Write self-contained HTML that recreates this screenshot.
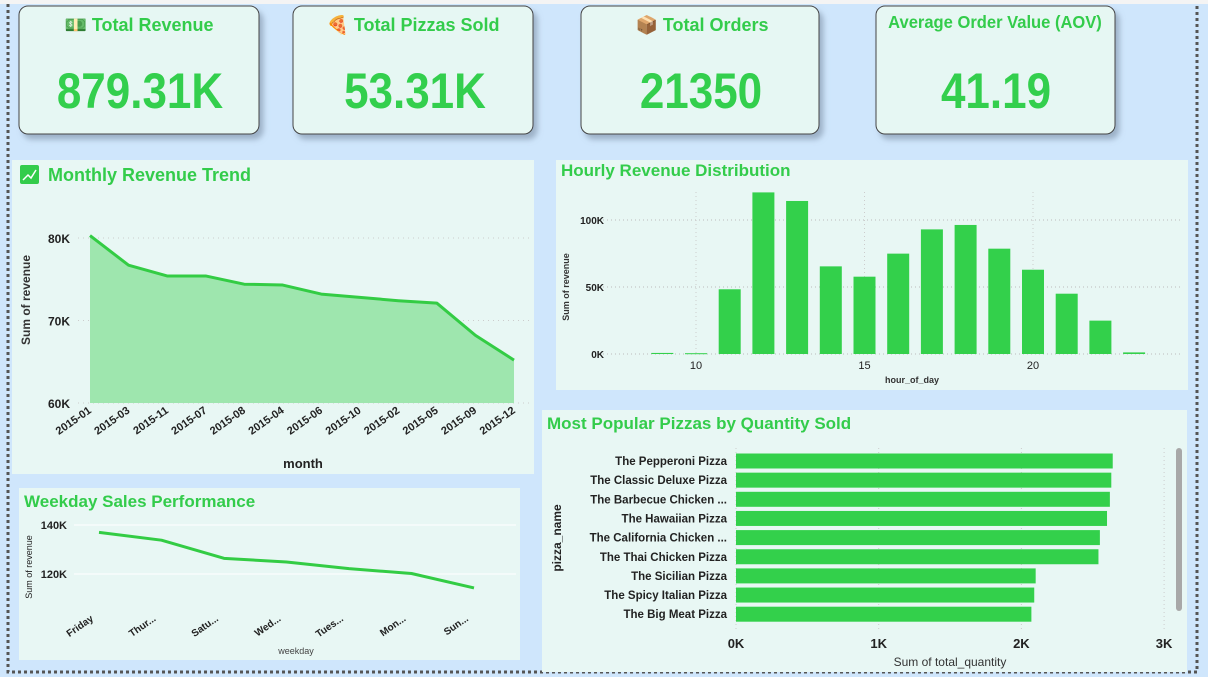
<!DOCTYPE html>
<html><head><meta charset="utf-8"><style>
html,body{margin:0;padding:0;width:1208px;height:677px;overflow:hidden;background:#cfe6fc;font-family:"Liberation Sans",sans-serif}
svg text{font-family:"Liberation Sans",sans-serif}
</style></head><body>
<svg id="root" width="1208" height="677" viewBox="0 0 1208 677" xmlns="http://www.w3.org/2000/svg">
<defs><filter id="sh" x="-10%" y="-10%" width="130%" height="140%"><feDropShadow dx="4" dy="5" stdDeviation="3" flood-color="#7a8ea3" flood-opacity="0.6"/></filter></defs>
<rect x="0" y="0" width="1208" height="4" fill="#f4f4f4"/>
<path d="M8 4 V672 H1197 V4" fill="none" stroke="#555" stroke-width="3" stroke-dasharray="3,3"/>

<g>
<rect x="19" y="6" width="240" height="128" rx="9" fill="#e6f7f3" stroke="#444" filter="url(#sh)"/>
<text x="139" y="31" text-anchor="middle" font-size="18" font-weight="bold" fill="#33cc4b">💵 Total Revenue</text>
<text x="140" y="108" text-anchor="middle" font-size="50" font-weight="bold" fill="#33cf4d" transform="translate(140 0) scale(0.88 1) translate(-140 0)">879.31K</text></g>
<g>
<rect x="293" y="6" width="240" height="128" rx="9" fill="#e6f7f3" stroke="#444" filter="url(#sh)"/>
<text x="413" y="31" text-anchor="middle" font-size="18" font-weight="bold" fill="#33cc4b">🍕 Total Pizzas Sold</text>
<text x="415" y="108" text-anchor="middle" font-size="50" font-weight="bold" fill="#33cf4d" transform="translate(415 0) scale(0.88 1) translate(-415 0)">53.31K</text></g>
<g>
<rect x="581" y="6" width="238" height="128" rx="9" fill="#e6f7f3" stroke="#444" filter="url(#sh)"/>
<text x="702" y="31" text-anchor="middle" font-size="18" font-weight="bold" fill="#33cc4b">📦 Total Orders</text>
<text x="701" y="108" text-anchor="middle" font-size="50" font-weight="bold" fill="#33cf4d" transform="translate(701 0) scale(0.88 1) translate(-701 0)">21350</text></g>
<g>
<rect x="876" y="6" width="239" height="128" rx="9" fill="#e6f7f3" stroke="#444" filter="url(#sh)"/>
<text x="995" y="28" text-anchor="middle" font-size="18" font-weight="bold" fill="#33cc4b" transform="translate(995 0) scale(0.92 1) translate(-995 0)">Average Order Value (AOV)</text>
<text x="996" y="108" text-anchor="middle" font-size="50" font-weight="bold" fill="#33cf4d" transform="translate(996 0) scale(0.88 1) translate(-996 0)">41.19</text></g>

<g>
<rect x="12" y="160" width="522" height="314" fill="#e8f7f4"/>
<rect x="20" y="165" width="19" height="19" rx="2" fill="#33cc4b"/>
<polyline points="23,180 28,175 31,178 36,170" fill="none" stroke="#fff" stroke-width="1.5"/>
<text x="48" y="181" font-size="18" font-weight="bold" fill="#33cc4b">Monthly Revenue Trend</text>
<text transform="translate(30 300) rotate(-90)" text-anchor="middle" font-size="12" font-weight="bold" fill="#333">Sum of revenue</text>
<text x="303" y="468" text-anchor="middle" font-size="13" font-weight="bold" fill="#222">month</text>
<g id="mgrid"></g><g id="mchart"></g></g>

<g>
<rect x="556" y="160" width="632" height="230" fill="#e8f7f4"/>
<text x="561" y="176" font-size="17" font-weight="bold" fill="#33cc4b">Hourly Revenue Distribution</text>
<text transform="translate(569 287) rotate(-90)" text-anchor="middle" font-size="9" font-weight="bold" fill="#333">Sum of revenue</text>
<text x="912" y="383" text-anchor="middle" font-size="9" font-weight="bold" fill="#333">hour_of_day</text>
<g id="hchart"></g></g>

<g>
<rect x="19" y="488" width="501" height="172" fill="#e8f7f4"/>
<text x="24" y="507" font-size="17" font-weight="bold" fill="#33cc4b">Weekday Sales Performance</text>
<text transform="translate(32 567) rotate(-90)" text-anchor="middle" font-size="9" fill="#222">Sum of revenue</text>
<text x="296" y="654" text-anchor="middle" font-size="9" fill="#444">weekday</text>
<g id="wchart"></g></g>

<g>
<rect x="542" y="410" width="645" height="262" fill="#e8f7f4"/>
<text x="547" y="429" font-size="17" font-weight="bold" fill="#33cc4b">Most Popular Pizzas by Quantity Sold</text>
<text transform="translate(561 538) rotate(-90)" text-anchor="middle" font-size="12" font-weight="bold" fill="#222">pizza_name</text>
<text x="950" y="666" text-anchor="middle" font-size="12" fill="#333">Sum of total_quantity</text>
<rect x="1176" y="448" width="6" height="163" rx="3" fill="#a8a8a8"/>
<g id="pchart"></g></g>
</svg>
<script>
const months=["2015-01","2015-03","2015-11","2015-07","2015-08","2015-04","2015-06","2015-10","2015-02","2015-05","2015-09","2015-12"];
const monthRevenue=[80.3,76.7,75.4,75.4,74.4,74.3,73.2,72.8,72.4,72.1,68.2,65.2];
const monthTicks=[60,70,80];
const hours=[9,10,11,12,13,14,15,16,17,18,19,20,21,22,23];
const hourRevenue=[0.8,0.6,48.3,120.6,114.2,65.4,57.7,74.9,93.0,96.3,78.6,62.9,45.0,24.9,1.2];
const hourTicks=[0,50,100];
const hourXTicks=[10,15,20];
const weekdays=["Friday","Thur...","Satu...","Wed...","Tues...","Mon...","Sun..."];
const weekdayRevenue=[137.0,133.8,126.4,124.9,122.2,120.2,114.3];
const weekdayTicks=[120,140];
const pizzas=["The Pepperoni Pizza","The Classic Deluxe Pizza","The Barbecue Chicken ...","The Hawaiian Pizza","The California Chicken ...","The Thai Chicken Pizza","The Sicilian Pizza","The Spicy Italian Pizza","The Big Meat Pizza"];
const pizzaQty=[2.64,2.63,2.62,2.60,2.55,2.54,2.10,2.09,2.07];
const pizzaTicks=[0,1,2,3];

const NS="http://www.w3.org/2000/svg";
function mk(tag,attrs,parent,txt){const e=document.createElementNS(NS,tag);for(const k in attrs)e.setAttribute(k,attrs[k]);if(txt!==undefined)e.textContent=txt;parent.appendChild(e);return e;}

(function(){
const g=document.getElementById('mchart');
const y=v=>238+(80-v)*8.25, x=i=>90+i*(424/(months.length-1));
monthTicks.forEach(t=>{
 const l=mk('line',{x1:78,x2:530,y1:y(t),y2:y(t),stroke:'#ccc','stroke-dasharray':'1,4'},g);
 
 
 const tx=mk('text',{x:70,y:y(t)+5,'text-anchor':'end','font-size':12,'font-weight':'bold',fill:'#222'},g,t+'K');
 
 
});
let pts=monthRevenue.map((v,i)=>x(i)+','+y(v)).join(' ');
const a=mk('polygon',{points:x(0)+','+y(60)+' '+pts+' '+x(months.length-1)+','+y(60),fill:'#9ee6ae'},g);


const p=mk('polyline',{points:pts,fill:'none',stroke:'#33cc44','stroke-width':3,'stroke-linejoin':'round'},g);


months.forEach((m,i)=>{
 const t=mk('text',{x:x(i)+2,y:412,'text-anchor':'end','font-size':11,'font-weight':'bold',fill:'#222',transform:`rotate(-35 ${x(i)+2} 412)`},g,m);
 
 
});
})();

(function(){
const g=document.getElementById('hchart');
const y=v=>354-v*1.34, x=h=>696+(h-10)*33.7;
hourTicks.forEach(t=>{
 const l=mk('line',{x1:595,x2:1182,y1:y(t),y2:y(t),stroke:'#bbb','stroke-dasharray':'1,3'},g);
 
 
 const tx=mk('text',{x:604,y:y(t)+4,'text-anchor':'end','font-size':10,'font-weight':'bold',fill:'#222'},g,t+'K');
 
 
});
hourXTicks.forEach(t=>{
 const l=mk('line',{x1:x(t),x2:x(t),y1:192,y2:354,stroke:'#ccc','stroke-dasharray':'1,3'},g);
 
 
 const tx=mk('text',{x:x(t),y:369,'text-anchor':'middle','font-size':11,fill:'#222'},g,t);
 
 
});
hours.forEach((h,i)=>{
 const v=hourRevenue[i];
 const r=mk('rect',{x:x(h)-11,y:y(v),width:22,height:Math.max(v*1.34,1),fill:'#33d04b'},g);
 
 
});
})();

(function(){
const g=document.getElementById('wchart');
const y=v=>525+(140-v)*2.45, x=i=>99+i*(375/(weekdays.length-1));
weekdayTicks.forEach(t=>{
 const l=mk('line',{x1:74,x2:516,y1:y(t),y2:y(t),stroke:'#fff','stroke-width':1},g);
 
 
 const tx=mk('text',{x:67,y:y(t)+4,'text-anchor':'end','font-size':11,'font-weight':'bold',fill:'#222'},g,t+'K');
 
 
});
const p=mk('polyline',{points:weekdayRevenue.map((v,i)=>x(i)+','+y(v)).join(' '),fill:'none',stroke:'#33cc44','stroke-width':3,'stroke-linejoin':'round'},g);


weekdays.forEach((d,i)=>{
 const t=mk('text',{x:x(i)-5,y:620,'text-anchor':'end','font-size':10,'font-weight':'bold',fill:'#222',transform:`rotate(-35 ${x(i)-5} 620)`},g,d);
 
 
});
})();

(function(){
const g=document.getElementById('pchart');
const x=v=>736+v*142.7, y=i=>461+i*19.15;
pizzaTicks.forEach(t=>{
 const l=mk('line',{x1:x(t),x2:x(t),y1:448,y2:630,stroke:'#ccc','stroke-dasharray':'1,3'},g);
 
 
 const tx=mk('text',{x:x(t),y:648,'text-anchor':'middle','font-size':13,'font-weight':'bold',fill:'#222'},g,t+'K');
 
 
});
pizzas.forEach((n,i)=>{
 const t=mk('text',{x:727,y:y(i)+4,'text-anchor':'end','font-size':11.5,'font-weight':'bold',fill:'#222'},g,n);
 
 
 const r=mk('rect',{x:x(0),y:y(i)-7.5,width:pizzaQty[i]*142.7,height:15,fill:'#33d04b'},g);
 
 
});
})();
</script>
</body></html>
